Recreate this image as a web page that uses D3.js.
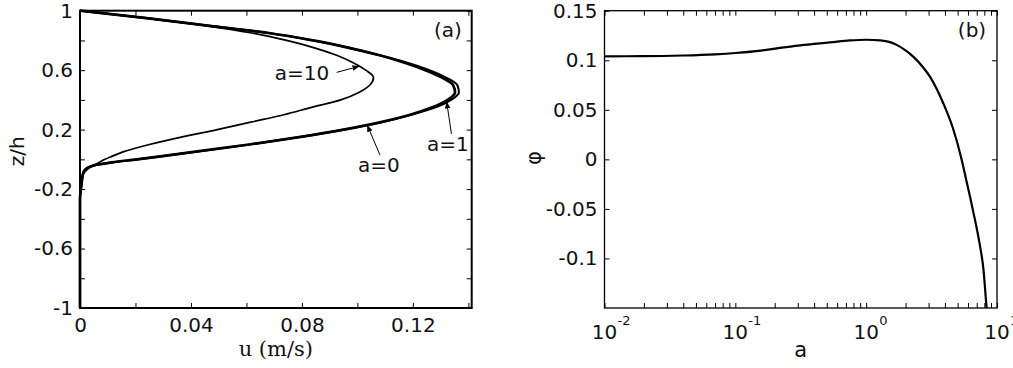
<!DOCTYPE html>
<html lang="en">
  <head>
    <meta charset="UTF-8" />
    <title>velocity profiles and phi(a)</title>
    <style>
      body { margin: 0; background: #fff; }
      text { font-family: 'DejaVu Sans', sans-serif; fill: #111; }
    </style>
  </head>
  <body>
    <svg id="chart" width="1013" height="368"></svg>
    <script src="https://cdn.jsdelivr.net/npm/d3@7"></script>
    <script>
      // panel (a): velocity profiles u(z) for three values of a
      var zLevels = [1, 0.95, 0.9, 0.85, 0.8, 0.75, 0.7, 0.65, 0.6, 0.55, 0.5, 0.45, 0.4, 0.35, 0.3, 0.25,
        0.2, 0.15, 0.1, 0.05, 0.02, 0, -0.02, -0.04, -0.07, -0.1, -0.16, -0.27, -0.5, -1];
      var uA0 = [0, 0.024, 0.046, 0.068, 0.084, 0.097, 0.108, 0.117, 0.1245, 0.1305, 0.1345, 0.1352, 0.1325, 0.127, 0.119, 0.1085,
        0.095, 0.079, 0.061, 0.041, 0.029, 0.0205, 0.0115, 0.005, 0.0018, 0.001, 0.0006, 0, 0, 0];
      var uA1 = [0, 0.024, 0.046, 0.068, 0.084, 0.097, 0.108, 0.118, 0.126, 0.132, 0.136, 0.1366, 0.1338, 0.1282, 0.1195, 0.1088,
        0.0952, 0.0792, 0.0612, 0.0412, 0.0292, 0.0207, 0.012, 0.0055, 0.002, 0.0011, 0.0006, 0, 0, 0];
      var uA10 = [0, 0.024, 0.045, 0.062, 0.0745, 0.0845, 0.0925, 0.0985, 0.103, 0.1058, 0.1045, 0.1005, 0.094, 0.0835, 0.0735, 0.0615,
        0.0495, 0.0365, 0.025, 0.0155, 0.0115, 0.009, 0.007, 0.005, 0.0025, 0.0012, 0.0005, 0, 0, 0];

      var uTicks = [0, 0.02, 0.04, 0.06, 0.08, 0.1, 0.12, 0.14];
      var uLabels = [0, 0.04, 0.08, 0.12];
      var zTicks = [-1, -0.8, -0.6, -0.4, -0.2, 0, 0.2, 0.4, 0.6, 0.8, 1];
      var zLabels = [-1, -0.6, -0.2, 0.2, 0.6, 1];

      // panel (b): phi as a function of a
      var aValues = [0.01, 0.02, 0.04, 0.07, 0.1, 0.15, 0.22, 0.3, 0.4, 0.53, 0.75, 1.0, 1.28, 1.5, 1.71, 2.0,
        2.3, 2.7, 3.08, 3.89, 4.6, 5.33, 5.82, 6.54, 7.35, 7.89, 8.27, 8.36];
      var phiValues = [0.104, 0.1041, 0.1048, 0.106, 0.1073, 0.1095, 0.1125, 0.1148, 0.1165, 0.118, 0.12, 0.1207, 0.12, 0.1185, 0.1155, 0.11,
        0.1034, 0.0935, 0.0832, 0.0564, 0.0316, 0.0014, -0.0208, -0.0511, -0.0846, -0.1117, -0.145, -0.152];

      var phiTicks = [-0.1, -0.05, 0, 0.05, 0.1, 0.15];
      var aDecades = [0.01, 0.1, 1, 10];

      var svg = d3.select('#chart');
      var fmt = d => String(+d.toFixed(3));

      // ---------- panel (a) ----------
      var L = { left: 80, right: 471.7, top: 10.7, bottom: 308 };
      var xU = d3.scaleLinear().domain([0, 0.1412]).range([L.left, L.right]);
      var yZ = d3.scaleLinear().domain([-1, 1]).range([L.bottom, L.top]);

      var gA = svg.append('g');
      var profLine = d3.line().x(d => xU(d[0])).y(d => yZ(d[1])).curve(d3.curveMonotoneY);
      var profiles = [
        { u: uA10, w: 1.7 },
        { u: uA0, w: 2.7 },
        { u: uA1, w: 2.1 }
      ];
      gA.append('g').attr('fill', 'none').attr('stroke', '#000')
        .selectAll('path').data(profiles).join('path')
        .attr('stroke-width', d => d.w)
        .attr('stroke-linejoin', 'round')
        .attr('d', d => profLine(d.u.map((u, i) => [u, zLevels[i]])));

      function frameAxes(g, x, y, xt, yt, xlab, ylab, xfmt, yfmt, sw) {
        g.append('g').attr('transform', `translate(0,${y.range()[0]})`)
          .call(d3.axisBottom(x).tickValues(xt).tickSize(-5).tickPadding(10)
            .tickFormat(d => xlab.includes(d) ? xfmt(d) : ''));
        g.append('g').attr('transform', `translate(0,${y.range()[1]})`)
          .call(d3.axisTop(x).tickValues(xt).tickSize(-5).tickFormat(''));
        g.append('g').attr('transform', `translate(${x.range()[0]},0)`)
          .call(d3.axisLeft(y).tickValues(yt).tickSize(-5).tickPadding(7)
            .tickFormat(d => ylab.includes(d) ? yfmt(d) : ''));
        g.append('g').attr('transform', `translate(${x.range()[1]},0)`)
          .call(d3.axisRight(y).tickValues(yt).tickSize(-5).tickFormat(''));
        g.selectAll('.domain').remove();
        g.selectAll('.tick line').attr('stroke', '#000').attr('stroke-width', 1);
        g.selectAll('.tick text').style('font-size', '20px').attr('fill', '#111');
        g.append('rect')
          .attr('x', x.range()[0]).attr('y', y.range()[1])
          .attr('width', x.range()[1] - x.range()[0]).attr('height', y.range()[0] - y.range()[1])
          .attr('fill', 'none').attr('stroke', '#000').attr('stroke-width', sw);
      }

      frameAxes(gA, xU, yZ, uTicks, zTicks, uLabels, zLabels, fmt, fmt, 2);

      // arrows and labels
      svg.append('defs').append('marker')
        .attr('id', 'head').attr('viewBox', '0 0 10 10').attr('refX', 9).attr('refY', 5)
        .attr('markerWidth', 7).attr('markerHeight', 7).attr('orient', 'auto')
        .append('path').attr('d', 'M0,1L10,5L0,9z').attr('fill', '#000');

      var notes = [
        { text: 'a=10', tx: 0.080, tz: 0.58, from: [0.0925, 0.585], to: [0.1005, 0.625] },
        { text: 'a=1', tx: 0.1326, tz: 0.104, from: [0.1339, 0.171], to: [0.1322, 0.385] },
        { text: 'a=0', tx: 0.1077, tz: -0.037, from: [0.1081, 0.03], to: [0.1036, 0.228] }
      ];
      gA.selectAll('line.note').data(notes).join('line').attr('class', 'note')
        .attr('x1', d => xU(d.from[0])).attr('y1', d => yZ(d.from[1]))
        .attr('x2', d => xU(d.to[0])).attr('y2', d => yZ(d.to[1]))
        .attr('stroke', '#000').attr('stroke-width', 1)
        .attr('marker-end', 'url(#head)');
      gA.selectAll('text.note').data(notes).join('text').attr('class', 'note')
        .attr('x', d => xU(d.tx)).attr('y', d => yZ(d.tz)).attr('dy', '0.35em')
        .attr('text-anchor', 'middle').style('font-size', '20px')
        .text(d => d.text);

      gA.append('text').attr('x', xU(0.1326)).attr('y', yZ(0.87)).attr('dy', '0.35em')
        .attr('text-anchor', 'middle').style('font-size', '20px').text('(a)');

      gA.append('text').attr('x', (L.left + L.right) / 2).attr('y', 356)
        .attr('text-anchor', 'middle')
        .style('font-family', "'DejaVu Serif', serif").style('font-size', '21px')
        .text('u (m/s)');
      gA.append('text').attr('transform', `translate(24,${(L.top + L.bottom) / 2 - 8}) rotate(-90)`)
        .attr('text-anchor', 'middle').style('font-size', '20px').text('z/h');

      // ---------- panel (b) ----------
      var R = { left: 604.5, right: 997, top: 10.7, bottom: 308 };
      var xA = d3.scaleLog().domain([0.01, 10]).range([R.left, R.right]);
      var yP = d3.scaleLinear().domain([-0.15, 0.15]).range([R.bottom, R.top]);

      var gB = svg.append('g');
      gB.append('clipPath').attr('id', 'clipB').append('rect')
        .attr('x', R.left).attr('y', R.top).attr('width', R.right - R.left).attr('height', R.bottom - R.top);

      gB.append('path')
        .attr('clip-path', 'url(#clipB)')
        .attr('fill', 'none').attr('stroke', '#000').attr('stroke-width', 2.2)
        .attr('d', d3.line().x(d => xA(d[0])).y(d => yP(d[1])).curve(d3.curveMonotoneX)(
          aValues.map((a, i) => [a, phiValues[i]])));

      var logTicks = [];
      aDecades.forEach((dec, i) => {
        if (i < aDecades.length - 1) for (var k = 1; k < 10; k++) logTicks.push(dec * k);
        else logTicks.push(dec);
      });

      frameAxes(gB, xA, yP, logTicks, phiTicks, [], phiTicks, fmt, fmt, 1.3);

      // decade labels 10^n
      var dl = gB.append('g').selectAll('g').data(aDecades).join('g')
        .attr('transform', d => `translate(${xA(d)},339)`);
      dl.append('text').attr('text-anchor', 'middle').style('font-size', '20px').text('10');
      dl.append('text').attr('x', 13).attr('y', -14).style('font-size', '13px')
        .text(d => String(Math.round(Math.log10(d))));

      gB.append('text').attr('x', (R.left + R.right) / 2).attr('y', 357)
        .attr('text-anchor', 'middle').style('font-size', '21px').text('a');
      gB.append('text').attr('transform', `translate(541,158) rotate(-90)`)
        .attr('text-anchor', 'middle').style('font-size', '21px').text('φ');
      gB.append('text').attr('x', xA(6.44)).attr('y', yP(0.1303)).attr('dy', '0.35em')
        .attr('text-anchor', 'middle').style('font-size', '20px').text('(b)');
    </script>
  </body>
</html>
